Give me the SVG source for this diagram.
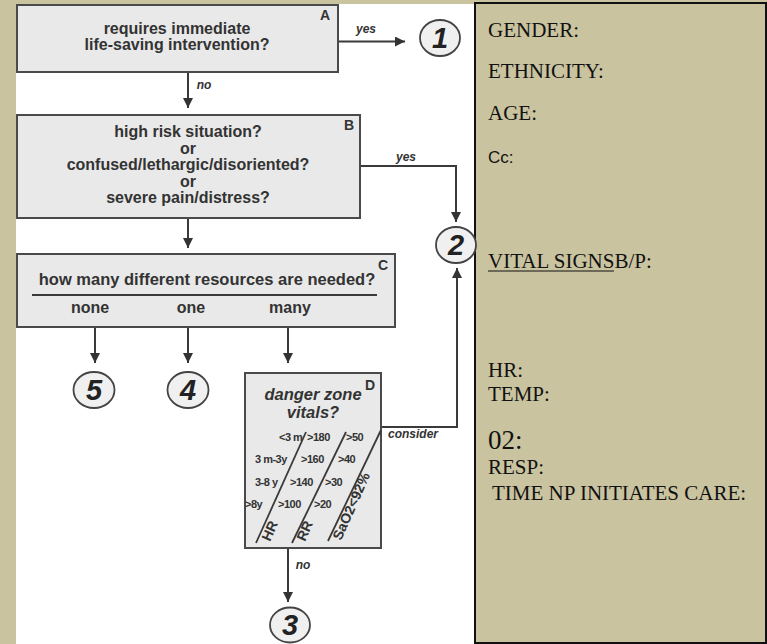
<svg xmlns="http://www.w3.org/2000/svg" width="767" height="644" viewBox="0 0 767 644">
<style>
.box{fill:#e9e9e9;stroke:#4a4a4a;stroke-width:2}
.circ{fill:#f0f0f0;stroke:#444;stroke-width:1.8}
.t{font-family:"Liberation Sans",Arial,sans-serif;font-weight:bold;fill:#333;font-size:16px;text-anchor:middle}
.lt{font-family:"Liberation Sans",Arial,sans-serif;font-weight:bold;fill:#333;font-size:14px;text-anchor:middle}
.lab{font-family:"Liberation Sans",Arial,sans-serif;font-weight:bold;font-style:italic;fill:#333;font-size:12px;text-anchor:middle}
.num{font-family:"Liberation Sans",Arial,sans-serif;font-weight:bold;font-style:italic;fill:#222;font-size:29px;text-anchor:middle}
.tb{font-family:"Liberation Sans",Arial,sans-serif;font-weight:bold;fill:#333;font-size:11px;letter-spacing:-0.5px}
.rot{font-family:"Liberation Sans",Arial,sans-serif;font-weight:bold;fill:#333;font-size:14px}
.c{fill:none;stroke:#3a3a3a;stroke-width:2}
.diag{fill:none;stroke:#3a3a3a;stroke-width:1.8}
.f{font-family:"Liberation Serif","Times New Roman",serif;fill:#111;font-size:21px}
.s{font-family:"Liberation Sans",Arial,sans-serif;fill:#111;font-size:17px}
</style>
<defs>
<marker id="ah" viewBox="0 0 10 10" refX="10" refY="5" markerWidth="10" markerHeight="10" markerUnits="userSpaceOnUse" orient="auto">
<path d="M0,0 L10,5 L0,10 Z" fill="#333"/>
</marker>
</defs>
<rect x="0" y="0" width="767" height="644" fill="#cac3a0"/>
<rect x="16" y="4" width="459" height="640" fill="#ffffff"/>

<g id="panel">
<rect x="475" y="3" width="291" height="640" fill="#cac3a0" stroke="#111" stroke-width="2"/>
<text class="f" x="488" y="37">GENDER:</text>
<text class="f" x="488" y="78">ETHNICITY:</text>
<text class="f" x="488" y="120">AGE:</text>
<text class="s" x="488" y="163">Cc:</text>
<text class="f" x="488" y="268">VITAL SIGNSB/P:</text>
<line x1="488" y1="271" x2="614" y2="271" stroke="#111" stroke-width="1.2"/>
<text class="f" x="488" y="377">HR:</text>
<text class="f" x="488" y="401">TEMP:</text>
<text class="f" x="488" y="449" style="font-size:27px">02:</text>
<text class="f" x="488" y="474">RESP:</text>
<text class="f" x="492" y="500">TIME NP INITIATES CARE:</text>
</g>

<g id="connectors">
<line class="c" x1="338" y1="41.5" x2="405" y2="41.5" marker-end="url(#ah)"/>
<text class="lab" x="366" y="33">yes</text>
<line class="c" x1="188" y1="72" x2="188" y2="108" marker-end="url(#ah)"/>
<text class="lab" x="204" y="89">no</text>
<polyline class="c" points="360,166 456,166 456,222" marker-end="url(#ah)"/>
<text class="lab" x="406" y="161">yes</text>
<line class="c" x1="188" y1="218" x2="188" y2="248" marker-end="url(#ah)"/>
<line class="c" x1="95" y1="327" x2="95" y2="363" marker-end="url(#ah)"/>
<line class="c" x1="188" y1="327" x2="188" y2="363" marker-end="url(#ah)"/>
<line class="c" x1="288" y1="327" x2="288" y2="363" marker-end="url(#ah)"/>
<polyline class="c" points="381,427 457,427 457,268" marker-end="url(#ah)"/>
<text class="lab" x="413" y="438">consider</text>
<line class="c" x1="288" y1="548" x2="288" y2="602" marker-end="url(#ah)"/>
<text class="lab" x="303" y="569">no</text>
</g>

<g id="nodeA">
<rect class="box" x="17" y="5" width="321" height="67"/>
<text class="lt" x="325" y="20">A</text>
<text class="t" x="177" y="34">requires immediate</text>
<text class="t" x="177" y="50">life-saving intervention?</text>
</g>

<g id="node1">
<ellipse class="circ" cx="440" cy="38" rx="20" ry="18"/>
<text class="num" x="440" y="48">1</text>
</g>

<g id="nodeB">
<rect class="box" x="17" y="115" width="343" height="103"/>
<text class="lt" x="349" y="130">B</text>
<text class="t" x="188" y="137">high risk situation?</text>
<text class="t" x="188" y="153.5">or</text>
<text class="t" x="188" y="170">confused/lethargic/disoriented?</text>
<text class="t" x="188" y="186.5">or</text>
<text class="t" x="188" y="203">severe pain/distress?</text>
</g>

<g id="node2">
<ellipse class="circ" cx="456" cy="245" rx="20" ry="18"/>
<text class="num" x="456" y="255">2</text>
</g>

<g id="nodeC">
<rect class="box" x="17" y="254" width="378" height="73"/>
<text class="lt" x="383" y="270">C</text>
<text class="t" x="207" y="285" style="font-size:16.5px">how many different resources are needed?</text>
<line x1="32" y1="295" x2="377" y2="295" stroke="#3a3a3a" stroke-width="1.8"/>
<text class="t" x="90" y="313">none</text>
<text class="t" x="191" y="313">one</text>
<text class="t" x="290" y="313">many</text>
</g>

<g id="node5">
<ellipse class="circ" cx="94" cy="390" rx="20.5" ry="18"/>
<text class="num" x="94" y="400">5</text>
</g>

<g id="node4">
<ellipse class="circ" cx="188" cy="390" rx="20.5" ry="18"/>
<text class="num" x="188" y="400">4</text>
</g>

<g id="nodeD">
<rect class="box" x="245" y="373" width="136" height="175"/>
<text class="lt" x="370" y="390">D</text>
<text class="t" x="313" y="400" style="font-style:italic;font-size:16.5px">danger zone</text>
<text class="t" x="313" y="418" style="font-style:italic;font-size:16.5px">vitals?</text>
<line class="diag" x1="256" y1="543" x2="306" y2="432"/>
<line class="diag" x1="292" y1="543" x2="346" y2="432"/>
<line class="diag" x1="328" y1="541" x2="381" y2="430"/>
<text class="tb" x="279" y="441">&lt;3 m</text>
<text class="tb" x="307" y="441">&gt;180</text>
<text class="tb" x="346" y="441">&gt;50</text>
<text class="tb" x="255" y="463">3 m-3y</text>
<text class="tb" x="301" y="463">&gt;160</text>
<text class="tb" x="338" y="463">&gt;40</text>
<text class="tb" x="255" y="486">3-8 y</text>
<text class="tb" x="290" y="486">&gt;140</text>
<text class="tb" x="325" y="486">&gt;30</text>
<text class="tb" x="245" y="508">&gt;8y</text>
<text class="tb" x="278" y="508">&gt;100</text>
<text class="tb" x="314" y="508">&gt;20</text>
<text class="rot" transform="translate(270,542) rotate(-66)">HR</text>
<text class="rot" transform="translate(305,542) rotate(-66)">RR</text>
<text class="rot" transform="translate(341,541) rotate(-66)">SaO2&lt;92%</text>
</g>

<g id="node3">
<ellipse class="circ" cx="290" cy="625" rx="20" ry="17.5"/>
<text class="num" x="290" y="635">3</text>
</g>
</svg>
